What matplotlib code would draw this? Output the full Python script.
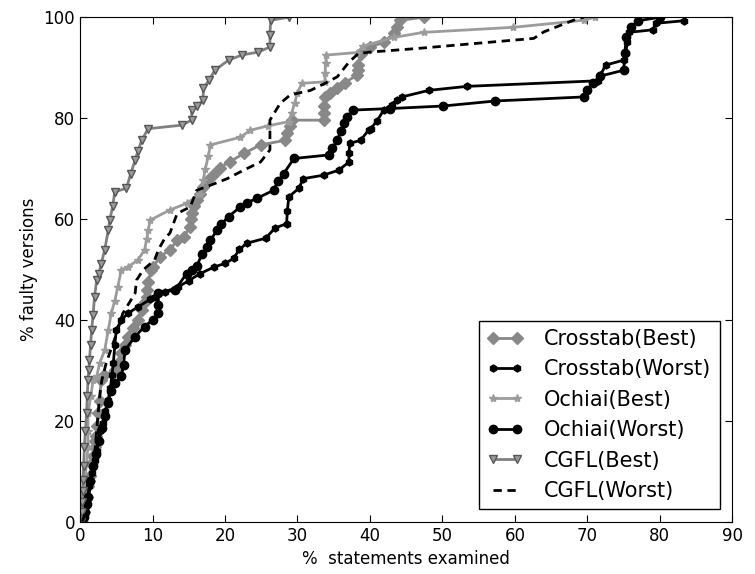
import matplotlib
matplotlib.use('Agg')
import matplotlib.pyplot as plt

# % statements examined (x) vs % faulty versions (y)
crosstab_best_x = [0.3, 0.5, 0.6, 0.8, 0.9, 1.1, 1.3, 1.4, 1.6, 1.8, 2.0, 2.1, 2.2, 2.4, 2.5, 2.7, 2.9, 3.3, 4.8, 5.2,
                   5.7, 6.2, 6.6, 7.3, 8.0, 8.5, 8.9, 9.2, 9.2, 9.4, 9.8, 10.1, 11.0, 12.4, 13.4, 14.3, 15.2, 15.3,
                   15.4, 15.7, 16.1, 16.5, 17.0, 17.7, 18.5, 19.3, 20.7, 22.6, 24.9, 28.3, 28.6, 29.0, 29.2, 33.6,
                   33.7, 33.7, 33.8, 34.5, 35.4, 36.5, 38.2, 38.3, 38.4, 38.7, 40.0, 41.9, 43.3, 43.8, 44.2, 47.5]
crosstab_best_y = [0, 2, 3, 4.5, 5, 7, 8, 9, 11.6, 13, 14.9, 16, 17, 19, 21.5, 24, 28.1, 29, 30.1, 31.5,
                   33.4, 35, 36.7, 38.5, 40, 42, 43.5, 44.6, 46, 47.5, 49.9, 50.5, 52.5, 53.9, 55.8, 56.5, 58.5, 60,
                   61.1, 62.5, 63.8, 65, 66.4, 67.7, 69, 70.2, 71.4, 73, 74.7, 75.6, 77, 78.5, 79.6, 79.6,
                   81, 82.5, 84.2, 85, 86, 87, 88.5, 89.5, 90.5, 92.8, 94, 95.1, 96.8, 98, 99.4, 100]

crosstab_worst_x = [0.3, 0.6, 1.0, 1.3, 1.6, 2.0, 2.3, 2.5, 2.8, 3.2, 3.5, 3.9, 4.2, 4.4, 4.6, 4.8, 5.0, 5.7, 6.6, 8.0,
                    9.7, 10.3, 11.7, 13.5, 15.0, 16.6, 18.5, 20.0, 21.2, 22.0, 23.0, 25.6, 26.9, 28.5, 28.6, 28.8, 30.2,
                    30.8, 33.6, 35.7, 37.1, 37.1, 37.2, 38.7, 39.8, 40.1, 41.0, 41.9, 43.0, 43.7, 44.4, 48.1, 53.4,
                    71.4, 71.8, 72.5, 75.0, 75.3, 75.5, 75.7, 79.0, 79.5, 83.3]
crosstab_worst_y = [0, 2, 4, 7, 9.6, 12.3, 14, 16.2, 18, 19.6, 22, 24.2, 26.6, 29, 31.5, 35, 38, 40, 41.3, 42.6,
                    44.1, 44.6, 45.6, 46.5, 47.8, 49.2, 50.5, 51.2, 52.2, 54, 55.2, 56.2, 58.2, 59.1, 61.5, 64.4, 66.1,
                    68, 68.7, 69.7, 71.3, 73, 75, 75.6, 77.6, 77.9, 79.5, 81.6, 82.7, 83.6, 84.2, 85.5, 86.3,
                    87.4, 88.5, 90.5, 91.5, 93, 95, 97, 97.5, 98.8, 99.3]

ochiai_best_x = [0.2, 0.4, 0.55, 0.65, 0.9, 1.1, 1.1, 1.1, 1.5, 1.8, 2.3, 2.7, 3.4, 3.9, 4.3, 4.8, 5.2, 5.7, 6.6, 8.0,
                 8.9, 9.2, 9.4, 9.7, 12.4, 14.7, 16.6, 17.0, 17.3, 17.7, 18.0, 22.1, 23.5, 26.0, 28.8, 29.2, 29.6,
                 30.0, 30.6, 33.8, 33.8, 33.9, 34.0, 38.2, 39.1, 43.3, 47.4, 59.8, 69.5, 71.0]
ochiai_best_y = [0, 1.7, 5, 8.3, 11.5, 14.9, 18, 21.5, 25, 28.1, 28.8, 31.4, 34, 38, 41.3, 43.8, 46.5, 49.9, 50.5, 51.9,
                 53.9, 56, 57.8, 59.8, 61.8, 63.1, 65, 67.7, 70, 72.5, 74.7, 76.2, 77.6, 78.5, 79.3, 81, 83,
                 85, 86.9, 87.2, 89, 91, 92.5, 93, 94.3, 96, 97, 98, 99.4, 100]

ochiai_worst_x = [0.3, 0.5, 0.7, 0.9, 1.1, 1.4, 1.8, 2.2, 2.6, 3.0, 3.4, 3.8, 4.3, 4.8, 5.7, 6.0, 6.2, 7.6, 8.9, 10.0,
                  10.8, 10.8, 10.8, 13.1, 14.7, 15.4, 16.1, 16.8, 17.5, 18.0, 18.9, 19.5, 20.5, 22.1, 23.0, 24.4,
                  26.7, 27.3, 28.1, 29.5, 34.3, 34.8, 35.5, 36.0, 36.4, 36.8, 37.7, 42.8, 50.1, 57.3, 69.5, 70.0,
                  70.8, 71.7, 75.0, 75.2, 75.3, 76.0, 77.0, 80.0]
ochiai_worst_y = [0, 1, 2, 3.5, 5, 8, 11, 13.5, 16, 18.5, 21, 23.5, 26, 27.5, 28.8, 31, 34, 36.7, 38.7, 40,
                  41.3, 43, 45.3, 45.9, 49.2, 49.9, 50.6, 53, 54.5, 55.8, 57.8, 59, 60.5, 62.4, 63.2, 64.1,
                  65.7, 67.5, 69, 72, 72.7, 74, 75.6, 77.5, 79, 80.3, 81.6, 81.9, 82.4, 83.4, 84.2, 85.5,
                  87, 88.3, 89.5, 93, 96, 98, 99.3, 100]

cgfl_best_x = [0.2, 0.25, 0.3, 0.35, 0.4, 0.5, 0.6, 0.75, 0.9, 1.0, 1.1, 1.2, 1.3, 1.45, 1.6, 1.8, 2.0, 2.3, 2.6, 2.9,
               3.4, 3.9, 4.1, 4.5, 4.8, 6.4, 7.0, 7.6, 8.0, 8.5, 9.4, 14.0, 15.4, 15.4, 16.2, 17.0, 17.0, 17.8, 18.6,
               20.5, 22.3, 24.6, 26.2, 26.2, 26.3, 28.8]
cgfl_best_y = [0, 2, 4, 6, 8.3, 11, 14.9, 18, 21.5, 25, 28.1, 30, 32, 35, 38, 41, 44.6, 47.9, 49.2, 51,
               53.9, 57.8, 59.8, 62.5, 65.4, 66.1, 69, 71.7, 73.5, 75.6, 77.9, 78.6, 79.6, 81.6, 82.5, 83.6, 85.9, 87.5,
               89.5, 91.5, 92.5, 93.1, 94.1, 96.5, 99.4, 100]

cgfl_worst_x = [0.3, 1.0, 1.5, 2.0, 2.3, 2.7, 3.0, 3.6, 5.2, 5.9, 7.6, 7.8, 8.7, 10.3, 10.8, 11.7, 12.4, 13.4, 15.2,
                16.1, 18.0, 20.3, 22.6, 24.9, 26.2, 26.2, 26.2, 27.6, 29.0, 31.8, 33.8, 35.5, 37.1, 38.4, 40.1, 46.5,
                62.6, 64.0, 68.6, 69.5]
cgfl_worst_y = [0, 3, 8, 12.9, 18.2, 24.8, 28, 31.4, 38, 41.3, 45.3, 47.9, 49.9, 51.9, 53.9, 56.2, 57.2, 61.1, 62.4,
                65.7, 66.7, 68, 69.7, 71.3, 73.7, 76.9, 79.6, 82.9, 84.6, 85.5, 86.9, 88.2, 91.1, 92.8, 93.1, 93.8,
                95.8, 97.1, 99.7, 100]

fig = plt.figure(figsize=(7.55, 5.74), dpi=100)
ax = fig.add_axes([0.106, 0.091, 0.864, 0.879])

ax.plot(crosstab_best_x, crosstab_best_y, color='#888888', lw=2, marker='D', ms=6,
        mec='#888888', label='Crosstab(Best)')
ax.plot(crosstab_worst_x, crosstab_worst_y, color='black', lw=2, marker='h', ms=5,
        label='Crosstab(Worst)')
ax.plot(ochiai_best_x, ochiai_best_y, color='#9c9c9c', lw=2, marker='*', ms=6,
        mec='#9c9c9c', label='Ochiai(Best)')
ax.plot(ochiai_worst_x, ochiai_worst_y, color='black', lw=2, marker='o', ms=6,
        label='Ochiai(Worst)')
ax.plot(cgfl_best_x, cgfl_best_y, color='#808080', lw=2, marker='v', ms=6,
        mfc='#9a9a9a', mec='#555555', label='CGFL(Best)')
ax.plot(cgfl_worst_x, cgfl_worst_y, color='black', lw=2, linestyle=(0, (3, 2)),
        label='CGFL(Worst)')

ax.set_xlim(0, 90)
ax.set_ylim(0, 100)
ax.set_xticks(range(0, 91, 10))
ax.set_yticks(range(0, 101, 20))
ax.tick_params(direction='in', top=True, right=True, labelsize=12, length=5)
ax.set_xlabel('%  statements examined', fontsize=12)
ax.set_ylabel('% faulty versions', fontsize=12)

leg = ax.legend(loc='lower right', fontsize=15, fancybox=False, framealpha=1,
                edgecolor='black', borderaxespad=0.6, handlelength=1.75,
                handletextpad=1.0, numpoints=2, labelspacing=0.5)
leg.get_frame().set_linewidth(1)

fig.savefig('out.png', dpi=100)
